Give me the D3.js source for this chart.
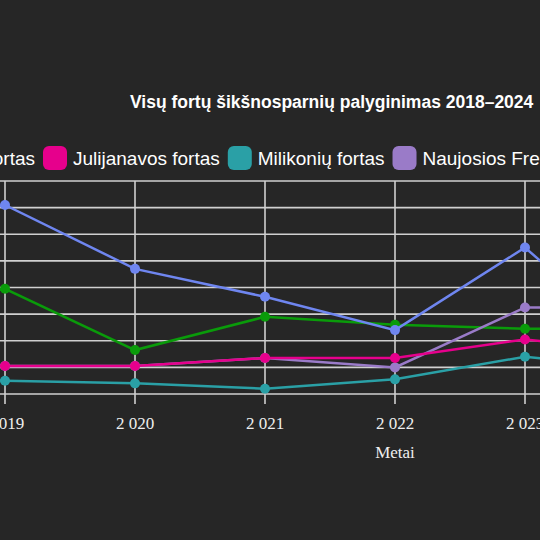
<!DOCTYPE html>
<html><head><meta charset="utf-8">
<script src="https://cdn.jsdelivr.net/npm/d3@7"></script>
<style>body{margin:0;background:#262626}</style>
</head><body>
<svg id="chart" width="540" height="540"></svg>
<script>
// Data (only 2019–2023 fully visible)
const years = [2018, 2019, 2020, 2021, 2022, 2023, 2024]
const seriesNames = ['VII fortas', 'Julijanavos fortas', 'Milikonių fortas', 'Naujosios Fredos fortas', 'IV fortas']
const seriesColors = ['#6f86f0', '#e6008c', '#2aa0a6', '#9a7bc8', '#0a9b0a']
const blueValues = [120, 142, 94, 73, 48, 110, 25]
const pinkValues = [22, 21, 21, 27, 27, 41, 30]
const tealValues = [12, 10, 8, 4, 11, 28, 18]
const purpleValues = [22, 21, 21, 27, 20, 65, 65]
const greenValues = [60, 79, 33, 58, 52, 49, 49]
const allValues = [blueValues, pinkValues, tealValues, purpleValues, greenValues]
const yTicks = [0, 20, 40, 60, 80, 100, 120, 140, 160]

const svg = d3.select('#chart')
svg.append('rect').attr('width', 540).attr('height', 540).attr('fill', '#262626')

const xScale = d3.scaleLinear().domain([2019, 2023]).range([5, 525])
const yScale = d3.scaleLinear().domain([0, 160]).range([394, 181])
const fmt = d3.formatLocale({ decimal: ',', thousands: ' ', grouping: [3], currency: ['', '€'] }).format(',')

// Grid
svg.append('g').selectAll('line').data(yTicks).enter().append('line')
  .attr('x1', -200).attr('x2', 740)
  .attr('y1', d => yScale(d)).attr('y2', d => yScale(d))
  .attr('stroke', '#d0d0d0').attr('stroke-width', 1.6)
svg.append('g').selectAll('line').data(years).enter().append('line')
  .attr('x1', d => xScale(d)).attr('x2', d => xScale(d))
  .attr('y1', yScale(160)).attr('y2', yScale(0) + 10)
  .attr('stroke', '#d0d0d0').attr('stroke-width', 1.6)

// Tick labels
svg.append('g').selectAll('text').data(years).enter().append('text')
  .attr('x', d => xScale(d)).attr('y', 429)
  .attr('text-anchor', 'middle').attr('fill', '#eeeeee')
  .attr('font-family', 'Liberation Serif').attr('font-size', 17)
  .text(d => fmt(d))

svg.append('text').attr('x', 395).attr('y', 458).attr('text-anchor', 'middle')
  .attr('fill', '#eeeeee').attr('font-family', 'Liberation Serif').attr('font-size', 17).text('Metai')

// Lines and points
const line = d3.line().x((d, i) => xScale(years[i])).y(d => yScale(d))
const drawOrder = [4, 3, 1, 2, 0]
drawOrder.forEach(s => {
  const g = svg.append('g')
  g.append('path').datum(allValues[s]).attr('d', line)
    .attr('fill', 'none').attr('stroke', seriesColors[s]).attr('stroke-width', 2.5)
  g.selectAll('circle').data(allValues[s]).enter().append('circle')
    .attr('cx', (d, i) => xScale(years[i])).attr('cy', d => yScale(d))
    .attr('r', 5).attr('fill', seriesColors[s])
})

// Title
svg.append('text').attr('x', 130).attr('y', 108).attr('fill', '#ffffff')
  .attr('font-family', 'Liberation Sans, Arial').attr('font-weight', 'bold').attr('font-size', 17.5)
  .text('Visų fortų šikšnosparnių palyginimas 2018–2024')

// Legend: anchored so the second swatch starts at x=43
const legend = svg.append('g')
const widths = seriesNames.map(n => {
  const t = legend.append('text').attr('font-family', 'Liberation Sans, Arial').attr('font-size', 19).text(n)
  const w = t.node().getComputedTextLength(); t.remove(); return w
})
const itemW = widths.map(w => 24 + 6 + w + 8)
let x = 43 - itemW[0]
seriesNames.forEach((n, i) => {
  legend.append('rect').attr('x', x).attr('y', 146).attr('width', 24).attr('height', 24)
    .attr('rx', 6).attr('fill', seriesColors[i])
  legend.append('text').attr('x', x + 30).attr('y', 165).attr('fill', '#ffffff')
    .attr('font-family', 'Liberation Sans, Arial').attr('font-size', 19).text(n)
  x += itemW[i]
})
</script>
</body></html>
